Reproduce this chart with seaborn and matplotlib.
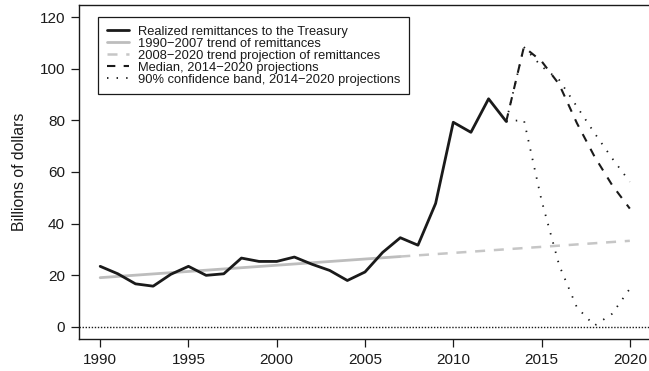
import matplotlib
matplotlib.use("Agg")
import matplotlib.pyplot as plt
import seaborn as sns

# Realized remittances to the Treasury (billions of dollars)
years_realized = list(range(1990, 2014))
realized = [23.4, 20.5, 16.6, 15.7, 20.3, 23.4, 19.9, 20.5, 26.6, 25.3, 25.3, 27.0,
            24.2, 21.8, 17.9, 21.2, 28.8, 34.5, 31.6, 47.8, 79.3, 75.4, 88.4, 79.6]

# Linear trend of remittances, 1990-2007, and its projection to 2020
years_trend = [1990, 2007]
trend = [19.0, 27.2]
years_trend_proj = [2007, 2020]
trend_proj = [27.2, 33.3]

# 2014-2020 projections (starting from the last realized value)
years_proj = list(range(2013, 2021))
median_proj = [79.6, 108.5, 103.0, 94.0, 79.0, 66.0, 54.9, 45.8]
upper_band = [79.6, 108.5, 101.0, 95.7, 85.4, 75.1, 65.3, 56.2]
lower_band = [79.6, 80.2, 49.0, 23.8, 7.5, 0.4, 5.0, 14.7]

x_ticks = [1990, 1995, 2000, 2005, 2010, 2015, 2020]
y_ticks = [0, 20, 40, 60, 80, 100, 120]

sns.set_theme(style="ticks")
plt.rcParams["font.family"] = ["Liberation Sans", "DejaVu Sans"]

fig = plt.figure(figsize=(6.49, 3.71), dpi=100)
ax = fig.add_axes([79 / 649, 32 / 371, 572 / 649, 334 / 371])

black = "#1a1a1a"
ax.axhline(0, color=black, lw=1.0, ls=(0, (1, 1.2)), zorder=1)

sns.lineplot(x=years_trend, y=trend, ax=ax, color="#bdbdbd", lw=2.0,
             label="1990\u22122007 trend of remittances", zorder=2)
sns.lineplot(x=years_trend_proj, y=trend_proj, ax=ax, color="#c6c6c6", lw=1.8,
             ls=(0, (4, 3.5)), label="2008\u22122020 trend projection of remittances",
             zorder=2)
sns.lineplot(x=years_realized, y=realized, ax=ax, color=black, lw=2.0,
             label="Realized remittances to the Treasury", zorder=3)
sns.lineplot(x=years_proj, y=median_proj, ax=ax, color=black, lw=1.5,
             ls=(0, (4, 4)), label="Median, 2014\u22122020 projections", zorder=3)
sns.lineplot(x=years_proj, y=upper_band, ax=ax, color=black, lw=1.3,
             ls=(0, (0.8, 4.5)), label="90% confidence band, 2014\u22122020 projections",
             zorder=3)
sns.lineplot(x=years_proj, y=lower_band, ax=ax, color=black, lw=1.3,
             ls=(0, (0.8, 4.5)), zorder=3)

ax.set_xlim(1988.8, 2021.2)
ax.set_ylim(-4.8, 124.8)
ax.set_xticks(x_ticks)
ax.set_yticks(y_ticks)
ax.tick_params(axis="both", labelsize=11, length=6, width=0.9, color=black,
               labelcolor=black, pad=4)
ax.set_xlabel("")
ax.set_ylabel("Billions of dollars", fontsize=11.3, color=black, labelpad=9)
for name, sp in ax.spines.items():
    sp.set_visible(name != "right")
    sp.set_color(black)
    sp.set_linewidth(1.0)

handles, labels = ax.get_legend_handles_labels()
order = [labels.index(l) for l in [
    "Realized remittances to the Treasury",
    "1990\u22122007 trend of remittances",
    "2008\u22122020 trend projection of remittances",
    "Median, 2014\u22122020 projections",
    "90% confidence band, 2014\u22122020 projections"]]
leg = ax.legend([handles[i] for i in order], [labels[i] for i in order],
                loc="upper left", bbox_to_anchor=(0.033, 0.965), borderaxespad=0,
                fontsize=9.3, frameon=True, fancybox=False, framealpha=1,
                edgecolor=black, handlelength=1.7, handletextpad=0.7,
                labelspacing=0.0, borderpad=0.68)
leg.get_frame().set_linewidth(0.9)
for t in leg.get_texts():
    t.set_color(black)

fig.savefig("out.png", dpi=100)
